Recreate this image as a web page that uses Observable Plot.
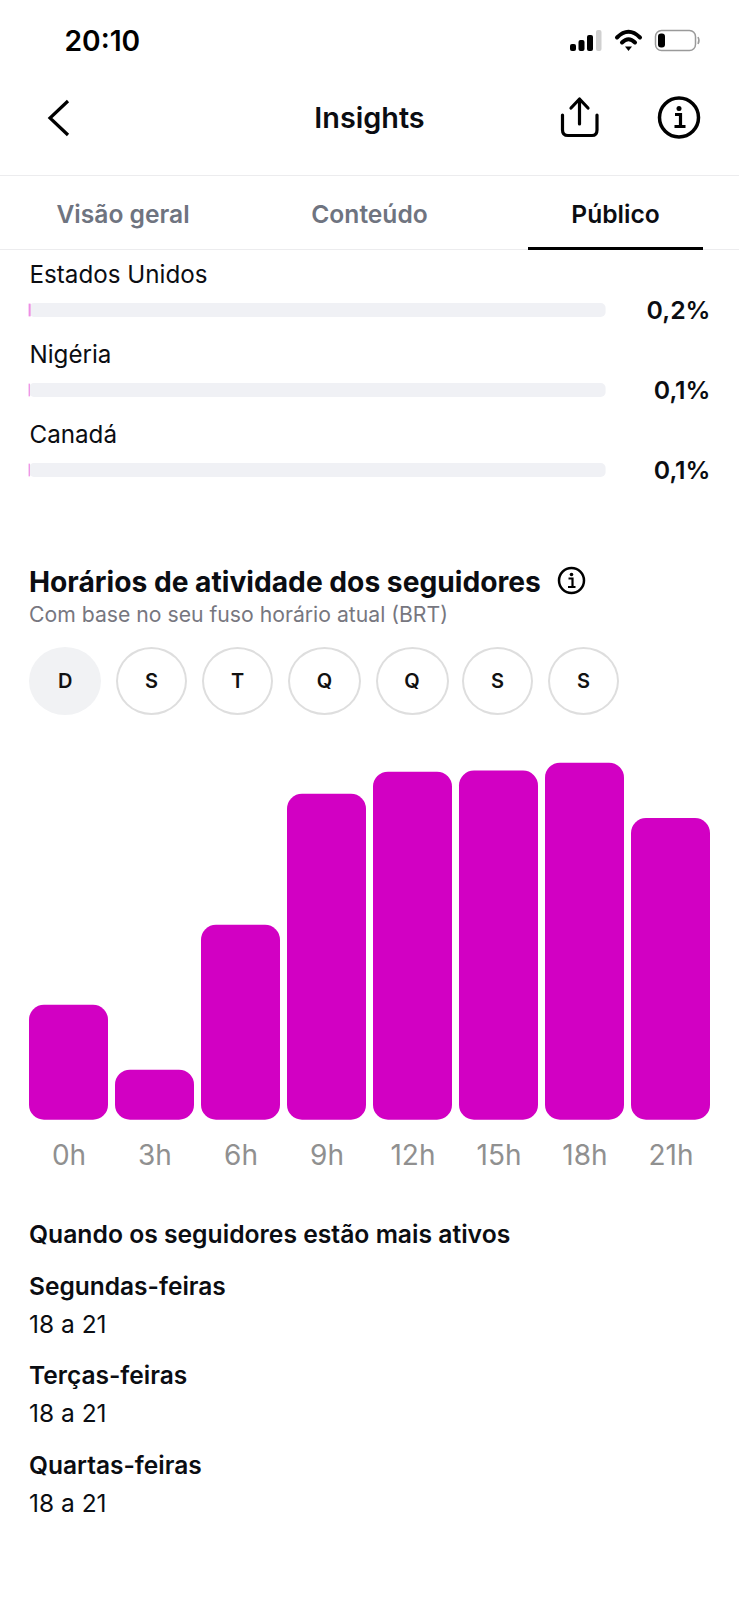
<!DOCTYPE html>
<html lang="pt-BR">
<head>
<meta charset="utf-8">
<script src="https://cdn.jsdelivr.net/npm/d3@7"></script>
<script src="https://cdn.jsdelivr.net/npm/@observablehq/plot@0.6"></script>
<style>
html,body{margin:0;padding:0;background:#fff}
#page{position:relative;width:739px;height:1600px;overflow:hidden;background:#fff;font-family:Inter,"Noto Sans",sans-serif;color:#0b0d12}
.t{position:absolute;white-space:nowrap;line-height:1;transform:translateY(-50%)}
.c{transform:translate(-50%,-50%)}
.line{position:absolute;left:0;width:739px;height:1px;background:#ececee}
.day{position:absolute;box-sizing:border-box;border:2px solid #dedede;border-radius:50%;display:flex;align-items:center;justify-content:center;font-size:20px;font-weight:600;color:#111}
.day.on{background:#f1f2f4;border-color:#f1f2f4}
svg.icon{position:absolute;overflow:visible}
#shares,#hours{position:absolute;left:0}
#shares{top:255px}
#hours{top:740px}
</style>
</head>
<body>
<div id="page">
  <div class="t" style="left:64.500px;top:41px;font-size:28.200px;font-weight:600;color:#000">20:10</div>
  <svg class="icon" style="left:0;top:0" width="739" height="180" fill="none">
    <g fill="#000">
      <rect x="570" y="44" width="6" height="7" rx="2"/>
      <rect x="578.500" y="40" width="6" height="11" rx="2"/>
      <rect x="587" y="35" width="6" height="16" rx="2"/>
      <rect x="596" y="30" width="5.500" height="21" rx="2" fill="#d0d0d0"/>
    </g>
    <g stroke="#000" stroke-linecap="round" fill="none">
      <path d="M617 37.500 Q628.500 26 640 37.500" stroke-width="4"/>
      <path d="M622 42.500 Q628.500 36 635 42.500" stroke-width="4"/>
    </g>
    <path d="M625 46.500 L632 46.500 L628.500 51 Z" fill="#000"/>
    <rect x="655.500" y="30.500" width="40" height="20" rx="6" stroke="#9a9a9a" stroke-width="1.500"/>
    <rect x="658" y="33.500" width="7" height="14" rx="3" fill="#000"/>
    <path d="M698 37 Q700 40.500 698 44" stroke="#9a9a9a" stroke-width="1.500"/>
    <path d="M68 101 L50 118 L68 135" stroke="#000" stroke-width="3.200"/>
    <g stroke="#000" stroke-width="3.200" stroke-linecap="round" stroke-linejoin="round">
      <path d="M562.500 115 V130 Q562.500 135.500 568 135.500 H592 Q597 135.500 597 130 V115"/>
      <path d="M579.500 124 V100 M571 108 L579.500 99 L588 108"/>
    </g>
    <circle cx="679" cy="117.500" r="19.500" stroke="#000" stroke-width="3.500"/>
    <circle cx="679" cy="108.500" r="2.500" fill="#000"/>
    <path d="M675 114.500 H680.500 V126 M674.500 126.500 H685.500" stroke="#000" stroke-width="3.200"/>
  </svg>
  <div class="t c" style="left:369.500px;top:118px;font-size:28.800px;font-weight:600">Insights</div>
  <div class="line" style="top:175px"></div>
  <div class="t c" style="left:123px;top:213.500px;font-size:24.600px;font-weight:600;color:#6f7480">Visão geral</div>
  <div class="t c" style="left:369.500px;top:213.500px;font-size:24.600px;font-weight:600;color:#6f7480">Conteúdo</div>
  <div class="t c" style="left:615.500px;top:213.500px;font-size:24.600px;font-weight:600;color:#0b0d12">Público</div>
  <div class="line" style="top:249px"></div>
  <div style="position:absolute;left:528px;top:247px;width:175px;height:3px;background:#000"></div>

  <div id="shares"></div>

  <div class="t" style="left:29px;top:582px;font-size:28.200px;font-weight:700">Horários de atividade dos seguidores</div>
  <svg class="icon" style="left:0;top:0" width="739" height="620" fill="none">
    <circle cx="571.500" cy="580.500" r="12.500" stroke="#000" stroke-width="2.500"/>
    <circle cx="571.500" cy="574.500" r="1.800" fill="#000"/>
    <path d="M568.500 578.500 H572.500 V586.500 M568 587 H575.500" stroke="#000" stroke-width="2.200"/>
  </svg>
  <div class="t" style="left:29px;top:615px;font-size:21.200px;color:#77777f">Com base no seu fuso horário atual (BRT)</div>

  <div id="days"></div>
  <div id="hours"></div>

  <div class="t" style="left:29px;top:1234px;font-size:24.700px;font-weight:600">Quando os seguidores estão mais ativos</div>
  <div id="active"></div>
</div>
<script>
// Countries
const countries = ["Estados Unidos", "Nigéria", "Canadá"];
const shareValues = [0.2, 0.1, 0.1];
const shareLabels = ["0,2%", "0,1%", "0,1%"];

// Hourly activity (index of the busiest slot = 100)
const hourLabels = ["0h", "3h", "6h", "9h", "12h", "15h", "18h", "21h"];
const hourValues = [32.2, 14, 54.6, 91.3, 97.5, 97.8, 100, 84.5];

// Weekday pills
const dayLetters = ["D", "S", "T", "Q", "Q", "S", "S"];
const dayCentres = [65.3, 151.5, 237.5, 324.5, 412, 497.5, 583.5];
const dayWidths = [72, 71, 71, 73, 73, 71, 71];

// Most active
const activeDays = ["Segundas-feiras", "Terças-feiras", "Quartas-feiras"];
const activeHours = ["18 a 21", "18 a 21", "18 a 21"];
const activeTops = [1286, 1375, 1465];
const activeHourTops = [1324, 1413, 1502.5];

const pink = "#d200c3";
const font = 'Inter, "Noto Sans", sans-serif';

const shareRows = countries.map((country, i) => ({country, share: shareValues[i], label: shareLabels[i]}));
document.getElementById("shares").append(Plot.plot({
  width: 739, height: 235,
  margin: 0,
  style: {fontFamily: font, background: "transparent"},
  x: {domain: [0, 100], range: [29, 605.6], axis: null},
  y: {domain: countries, range: [15, 255], padding: 0, axis: null},
  marks: [
    Plot.barX(shareRows, {x1: 0, x2: 100, y: "country", fill: "#f0f1f5", insetTop: 33, insetBottom: 33, rx: 5}),
    Plot.barX(shareRows, {x1: 0, x2: "share", y: "country", fill: "#ee8fe4", stroke: "#ee8fe4", strokeWidth: 0.8, insetTop: 34, insetBottom: 34}),
    Plot.text(shareRows, {x: 0, y: "country", text: "country", textAnchor: "start", dy: -35, fontSize: 24.2, fill: "#0b0d12"}),
    Plot.text(shareRows, {x: 100, y: "country", text: "label", textAnchor: "end", dx: 104.4, dy: 1, fontSize: 24.8, fontWeight: 600, fill: "#0b0d12"})
  ]
}));

const hourRows = hourLabels.map((hour, i) => ({hour, value: hourValues[i]}));
document.getElementById("hours").append(Plot.plot({
  width: 739, height: 440,
  marginLeft: 0, marginRight: 0, marginTop: 22.7, marginBottom: 60.3,
  style: {fontFamily: font, background: "transparent"},
  x: {domain: hourLabels, range: [29, 709.6], paddingInner: 0.087, paddingOuter: 0, align: 0, label: null},
  y: {domain: [0, 100], axis: null},
  marks: [
    Plot.barY(hourRows, {x: "hour", y: "value", fill: pink, rx: 15}),
    Plot.axisX({anchor: "bottom", tickSize: 0, tickPadding: 24.5, fontSize: 28, color: "#909090", label: null})
  ]
}));

const days = document.getElementById("days");
dayLetters.forEach((letter, i) => {
  const d = document.createElement("div");
  d.className = "day" + (i === 0 ? " on" : "");
  d.textContent = letter;
  d.style.left = (dayCentres[i] - dayWidths[i] / 2) + "px";
  d.style.top = "647px";
  d.style.width = dayWidths[i] + "px";
  d.style.height = "68px";
  days.append(d);
});

const active = document.getElementById("active");
activeDays.forEach((name, i) => {
  const a = document.createElement("div");
  a.className = "t";
  a.textContent = name;
  a.style.cssText = `left:29px;top:${activeTops[i]}px;font-size:24.5px;font-weight:600`;
  const b = document.createElement("div");
  b.className = "t";
  b.textContent = activeHours[i];
  b.style.cssText = `left:29px;top:${activeHourTops[i]}px;font-size:24.5px`;
  active.append(a, b);
});
</script>
</body>
</html>
